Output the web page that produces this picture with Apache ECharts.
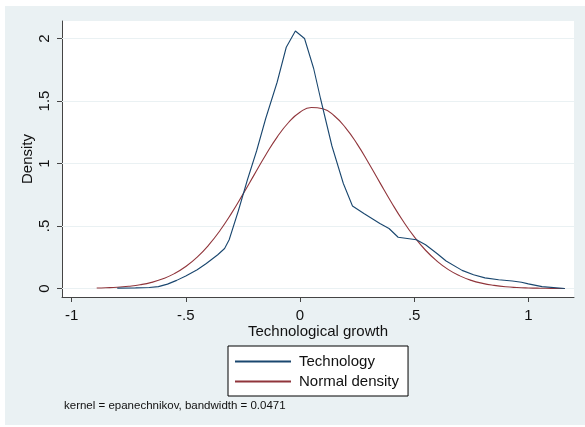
<!DOCTYPE html>
<html>
<head>
<meta charset="utf-8">
<script src="https://cdn.jsdelivr.net/npm/echarts@6/dist/echarts.min.js"></script>
<style>html,body{margin:0;padding:0;background:#fff}#c{width:585px;height:427px}</style>
</head>
<body>
<div id="c"></div>
<script>
// Kernel density estimate of technological growth
var techX = [-0.80, -0.72, -0.66, -0.62, -0.58, -0.54, -0.50, -0.45, -0.41, -0.36, -0.33, -0.31, -0.27, -0.23, -0.19, -0.15, -0.10, -0.06, -0.02, 0.02, 0.06, 0.09, 0.14, 0.19, 0.23, 0.28, 0.35, 0.39, 0.43, 0.47, 0.51, 0.55, 0.60, 0.64, 0.71, 0.76, 0.81, 0.87, 0.93, 0.97, 1.00, 1.06, 1.16];
var techY = [0.003, 0.005, 0.008, 0.015, 0.035, 0.065, 0.10, 0.15, 0.20, 0.27, 0.32, 0.39, 0.62, 0.87, 1.10, 1.36, 1.65, 1.93, 2.06, 2.00, 1.76, 1.52, 1.14, 0.84, 0.66, 0.60, 0.52, 0.48, 0.41, 0.40, 0.39, 0.35, 0.28, 0.22, 0.145, 0.11, 0.085, 0.07, 0.06, 0.05, 0.037, 0.015, 0.0];
// Normal density overlay
var normX = [-0.89, -0.85, -0.80, -0.75, -0.70, -0.65, -0.60, -0.55, -0.50, -0.45, -0.40, -0.35, -0.30, -0.25, -0.20, -0.15, -0.10, -0.05, 0.00, 0.05, 0.10, 0.15, 0.20, 0.25, 0.30, 0.35, 0.40, 0.45, 0.50, 0.55, 0.60, 0.65, 0.70, 0.75, 0.80, 0.85, 0.90, 0.95, 1.00, 1.05, 1.10, 1.16];
var normY = [0.004, 0.006, 0.010, 0.018, 0.030, 0.049, 0.078, 0.119, 0.176, 0.251, 0.347, 0.464, 0.601, 0.753, 0.911, 1.068, 1.211, 1.328, 1.410, 1.448, 1.438, 1.382, 1.285, 1.157, 1.006, 0.847, 0.690, 0.544, 0.415, 0.306, 0.219, 0.151, 0.101, 0.065, 0.041, 0.025, 0.014, 0.008, 0.0045, 0.0024, 0.0012, 0.0005];
var xTicks = [-1, -0.5, 0, 0.5, 1];
var yTicks = [0, 0.5, 1, 1.5, 2];
var seriesNames = ['Technology', 'Normal density'];
var noteText = 'kernel = epanechnikov, bandwidth = 0.0471';
var xTitle = 'Technological growth';
var yTitle = 'Density';

function zip(a, b) { return a.map(function (v, i) { return [v, b[i]]; }); }
function fmt(v) { return v === 0 ? '0' : String(v).replace('0.', '.'); }

var FONT = 'Liberation Sans, Arial, sans-serif';
var chart = echarts.init(document.getElementById('c'), null, {renderer: 'canvas'});
chart.setOption({
  backgroundColor: '#ffffff',
  animation: false,
  graphic: [{
    type: 'rect', z: -100, silent: true,
    shape: {x: 5, y: 6, width: 580, height: 419},
    style: {fill: '#eaf1f3'}
  }],
  title: {
    text: noteText, left: 64, top: 400, padding: 0,
    textStyle: {fontSize: 11.5, fontWeight: 'normal', color: '#111', fontFamily: FONT}
  },
  grid: {left: 62, top: 21, width: 512, height: 276, show: true, backgroundColor: '#ffffff', borderWidth: 0, containLabel: false},
  legend: {
    orient: 'vertical', left: 228, top: 346,
    padding: [8, 9, 7, 7], itemGap: 5, itemWidth: 56, itemHeight: 2, icon: 'rect',
    backgroundColor: '#ffffff', borderColor: '#000', borderWidth: 1, borderRadius: 0,
    textStyle: {fontSize: 15, color: '#111', fontFamily: FONT, padding: [0, 0, 0, 3]},
    data: seriesNames
  },
  xAxis: {
    type: 'value', min: -1.042, max: 1.2,
    name: xTitle, nameLocation: 'middle', nameGap: 27, nameMoveOverlap: false,
    nameTextStyle: {fontSize: 15, color: '#111', fontFamily: FONT},
    axisLine: {show: true, onZero: false, lineStyle: {color: '#444', width: 1}},
    axisTick: {show: true, length: 5, customValues: xTicks, lineStyle: {color: '#444'}},
    axisLabel: {customValues: xTicks, formatter: fmt, fontSize: 15, color: '#111', fontFamily: FONT, margin: 11},
    splitLine: {show: false}
  },
  yAxis: {
    type: 'value', min: -0.068, max: 2.14,
    name: yTitle, nameLocation: 'middle', nameGap: 27, nameMoveOverlap: false,
    nameTextStyle: {fontSize: 15, color: '#111', fontFamily: FONT},
    axisLine: {show: true, onZero: false, lineStyle: {color: '#444', width: 1}},
    axisTick: {show: true, length: 5, customValues: yTicks, lineStyle: {color: '#444'}},
    axisLabel: {customValues: yTicks, formatter: fmt, rotate: 90, fontSize: 15, color: '#111', fontFamily: FONT, margin: 10},
    splitLine: {show: false}
  },
  series: [{
    name: seriesNames[0], type: 'line', data: zip(techX, techY),
    symbol: 'none', smooth: false, lineStyle: {color: '#1a476f', width: 1.1}, itemStyle: {color: '#1a476f'},
    z: 3,
    markLine: {
      silent: true, symbol: ['none', 'none'], label: {show: false},
      lineStyle: {color: '#eaf1f3', width: 1, type: 'solid'},
      data: yTicks.map(function (v) { return {yAxis: v}; }),
      z: 1
    }
  }, {
    name: seriesNames[1], type: 'line', data: zip(normX, normY),
    symbol: 'none', smooth: true, lineStyle: {color: '#90353b', width: 1.1}, itemStyle: {color: '#90353b'},
    z: 2
  }]
});
</script>
</body>
</html>
